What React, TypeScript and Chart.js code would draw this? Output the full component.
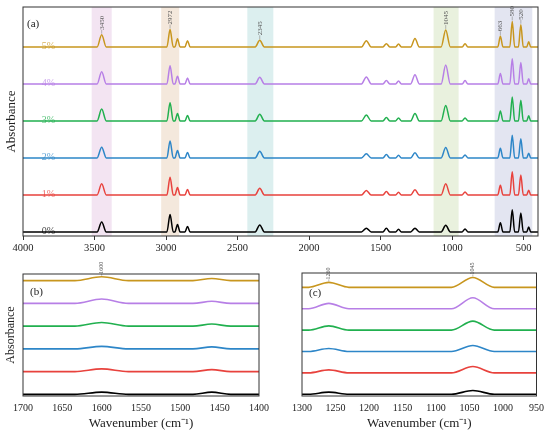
import React, { useEffect, useRef } from 'react';
import { Chart, registerables, ChartConfiguration, Plugin } from 'chart.js';

Chart.register(...registerables);

const FONT = "'Liberation Serif', 'Times New Roman', serif";

// series (filler content)
const seriesLabels = ['0%', '1%', '2%', '3%', '4%', '5%'];
const seriesColors = ['#000000', '#e8423d', '#2d86c8', '#21b04f', '#b77fe6', '#c8961e'];
const seriesOffsets = [0, 1, 2, 3, 4, 5];

// absorption bands (cm-1) and their approximate half widths
const peakCenters = [3450, 2972, 2920, 2850, 2345, 1600, 1460, 1375, 1260, 1045, 910, 663, 580, 520, 465];
const peakHalfWidths = [32, 22, 18, 18, 32, 34, 24, 20, 30, 32, 20, 18, 17, 17, 14];

// peak heights per series, same order as peakCenters
const heights0 = [0.27, 0.47, 0.2, 0.15, 0.19, 0.1, 0.1, 0.07, 0.1, 0.18, 0.08, 0.25, 0.6, 0.51, 0.13];
const heights1 = [0.3, 0.48, 0.2, 0.15, 0.18, 0.12, 0.09, 0.07, 0.14, 0.3, 0.08, 0.26, 0.63, 0.54, 0.13];
const heights2 = [0.29, 0.46, 0.2, 0.15, 0.18, 0.11, 0.09, 0.07, 0.14, 0.28, 0.08, 0.26, 0.61, 0.52, 0.13];
const heights3 = [0.32, 0.49, 0.2, 0.15, 0.18, 0.16, 0.09, 0.08, 0.2, 0.42, 0.08, 0.27, 0.65, 0.56, 0.14];
const heights4 = [0.33, 0.49, 0.21, 0.16, 0.18, 0.19, 0.09, 0.08, 0.25, 0.51, 0.09, 0.28, 0.68, 0.58, 0.14];
const heights5 = [0.33, 0.47, 0.22, 0.17, 0.18, 0.17, 0.09, 0.08, 0.23, 0.46, 0.09, 0.29, 0.69, 0.6, 0.14];
const peakHeights = [heights0, heights1, heights2, heights3, heights4, heights5];

// shaded regions in panel (a)
const bandFrom = [3520, 3034, 2432, 1130, 703];
const bandTo = [3380, 2908, 2250, 955, 440];
const bandColors = ['#f3e4f2', '#f4e8dc', '#dcefef', '#e9f1de', '#e3e5f1'];

// peak labels
const annotA = [3450, 2972, 2345, 1045, 663, 580, 520];
const annotB = [1600];
const annotC = [1260, 1045];

// tick labels
const xTicksA = [4000, 3500, 3000, 2500, 2000, 1500, 1000, 500];
const xTicksB = [1700, 1650, 1600, 1550, 1500, 1450, 1400];
const xTicksC = [1300, 1250, 1200, 1150, 1100, 1050, 1000, 950];

const buildSeries = (row: number[], offset: number) => {
  const pts = [{ x: 400, y: offset }, { x: 4000, y: offset }];
  peakCenters.forEach((c, i) => {
    const hw = peakHalfWidths[i];
    pts.push({ x: c - hw, y: offset }, { x: c, y: offset + row[i] }, { x: c + hw, y: offset });
  });
  return pts.sort((a, b) => a.x - b.x);
};

interface Decor {
  bands: boolean;
  seriesText: boolean;
  annot: number[];
  annotFont: number;
  annotGap: number;
  letter: string;
  letterDx: number;
  letterDy: number;
}

const decorPlugin = (d: Decor): Plugin<'line'> => ({
  id: 'decor',
  beforeDatasetsDraw(chart) {
    const { ctx, chartArea: a } = chart;
    const xs = chart.scales.x;
    const ys = chart.scales.y;
    ctx.save();
    if (d.bands) {
      bandFrom.forEach((f, i) => {
        const x1 = xs.getPixelForValue(f);
        const x2 = xs.getPixelForValue(bandTo[i]);
        ctx.fillStyle = bandColors[i];
        ctx.fillRect(Math.min(x1, x2), a.top, Math.abs(x2 - x1), a.bottom - a.top);
      });
    }
    if (d.seriesText) {
      ctx.font = `10px ${FONT}`;
      ctx.textAlign = 'center';
      ctx.textBaseline = 'middle';
      ctx.globalAlpha = 0.75;
      seriesLabels.forEach((lab, i) => {
        ctx.fillStyle = seriesColors[i];
        ctx.fillText(lab, a.left + 25.5, ys.getPixelForValue(seriesOffsets[i]) - 1);
      });
    }
    ctx.restore();
  },
  afterDraw(chart) {
    const { ctx, chartArea: a } = chart;
    const xs = chart.scales.x;
    const ys = chart.scales.y;
    ctx.save();
    // peak labels above the top series
    const top = peakHeights.length - 1;
    d.annot.forEach((wn) => {
      const idx = peakCenters.indexOf(wn);
      const px = xs.getPixelForValue(wn);
      const py = ys.getPixelForValue(seriesOffsets[top] + peakHeights[top][idx]);
      ctx.strokeStyle = '#888';
      ctx.lineWidth = 0.6;
      ctx.beginPath();
      ctx.moveTo(px, py - 1);
      ctx.lineTo(px, py - d.annotGap);
      ctx.stroke();
      ctx.save();
      ctx.translate(px, py - d.annotGap);
      ctx.rotate(-Math.PI / 2);
      ctx.font = `${d.annotFont}px ${FONT}`;
      ctx.fillStyle = '#555';
      ctx.textAlign = 'left';
      ctx.textBaseline = 'middle';
      ctx.fillText(String(wn), 0, 0);
      ctx.restore();
    });
    // frame
    ctx.strokeStyle = '#333';
    ctx.lineWidth = 1;
    ctx.strokeRect(a.left, a.top, a.right - a.left, a.bottom - a.top);
    // panel letter
    ctx.font = `11px ${FONT}`;
    ctx.fillStyle = '#222';
    ctx.textAlign = 'left';
    ctx.textBaseline = 'middle';
    ctx.fillText(d.letter, a.left + d.letterDx, a.top + d.letterDy);
    ctx.restore();
  },
});

interface PanelSpec {
  min: number;
  max: number;
  yMin: number;
  yMax: number;
  ticks: number[];
  tickMarks: boolean;
  tickPad: number;
  axisHeight: number;
  axisWidth: number;
  yTitle: string;
  yTitleSize: number;
  xTitle: string;
  padding: { top: number; right: number };
  tickSize: number;
  lineWidth: number;
  decor: Decor;
}

const makeConfig = (p: PanelSpec): ChartConfiguration<'line'> => ({
  type: 'line',
  data: {
    datasets: seriesLabels.map((lab, i) => ({
      label: lab,
      data: buildSeries(peakHeights[i], seriesOffsets[i]),
      borderColor: seriesColors[i],
      borderWidth: p.lineWidth,
      pointRadius: 0,
      fill: false,
      cubicInterpolationMode: 'monotone' as const,
    })),
  },
  options: {
    responsive: false,
    animation: false,
    layout: { padding: { top: p.padding.top, right: p.padding.right, left: 0, bottom: 0 } },
    plugins: { legend: { display: false }, tooltip: { enabled: false } },
    scales: {
      x: {
        type: 'linear',
        reverse: true,
        min: p.min,
        max: p.max,
        afterBuildTicks: (s) => {
          s.ticks = p.ticks.map((v) => ({ value: v }));
        },
        afterFit: (s) => {
          s.height = p.axisHeight;
        },
        grid: {
          display: p.tickMarks,
          drawOnChartArea: false,
          drawTicks: p.tickMarks,
          tickLength: 4,
          color: '#333',
        },
        border: { display: false },
        ticks: {
          autoSkip: false,
          maxRotation: 0,
          padding: p.tickPad,
          color: '#222',
          font: { family: FONT, size: p.tickSize },
          callback: (v) => String(v),
        },
        title: {
          display: p.xTitle !== '',
          text: p.xTitle,
          color: '#222',
          font: { family: FONT, size: 13 },
          padding: { top: 0, bottom: 4 },
        },
      },
      y: {
        type: 'linear',
        min: p.yMin,
        max: p.yMax,
        afterFit: (s) => {
          s.width = p.axisWidth;
        },
        grid: { display: false },
        border: { display: false },
        ticks: { display: false },
        title: {
          display: p.yTitle !== '',
          text: p.yTitle,
          color: '#222',
          font: { family: FONT, size: p.yTitleSize },
          padding: { top: 4, bottom: 0 },
        },
      },
    },
  },
  plugins: [decorPlugin(p.decor)],
});

const configA = makeConfig({
  min: 400, max: 4000, yMin: -0.11, yMax: 6.08,
  ticks: xTicksA, tickMarks: true, tickPad: 2, axisHeight: 20, axisWidth: 23,
  yTitle: 'Absorbance', yTitleSize: 13, xTitle: '',
  padding: { top: 7, right: 12 }, tickSize: 10.5, lineWidth: 1.5,
  decor: { bands: true, seriesText: true, annot: annotA, annotFont: 7, annotGap: 5, letter: '(a)', letterDx: 4, letterDy: 17 },
});

const configB = makeConfig({
  min: 1400, max: 1700, yMin: -0.07, yMax: 5.29,
  ticks: xTicksB, tickMarks: false, tickPad: 6, axisHeight: 39, axisWidth: 23,
  yTitle: 'Absorbance', yTitleSize: 12, xTitle: 'Wavenumber (cm\u207B\u00B9)',
  padding: { top: 19, right: 16 }, tickSize: 10, lineWidth: 1.6,
  decor: { bands: false, seriesText: false, annot: annotB, annotFont: 6, annotGap: 3, letter: '(b)', letterDx: 7, letterDy: 18 },
});

const configC = makeConfig({
  min: 950, max: 1300, yMin: -0.08, yMax: 5.67,
  ticks: xTicksC, tickMarks: false, tickPad: 6, axisHeight: 39, axisWidth: 27,
  yTitle: '', yTitleSize: 12, xTitle: 'Wavenumber (cm\u207B\u00B9)',
  padding: { top: 18, right: 12 }, tickSize: 10, lineWidth: 1.6,
  decor: { bands: false, seriesText: false, annot: annotC, annotFont: 6, annotGap: 3, letter: '(c)', letterDx: 7, letterDy: 20 },
});

interface PanelProps {
  config: ChartConfiguration<'line'>;
  left: number;
  top: number;
  width: number;
  height: number;
}

const ChartPanel: React.FC<PanelProps> = ({ config, left, top, width, height }) => {
  const canvasRef = useRef<HTMLCanvasElement | null>(null);

  useEffect(() => {
    if (!canvasRef.current) return;
    const chart = new Chart(canvasRef.current, config);
    return () => {
      chart.destroy();
    };
  }, [config]);

  return (
    <div style={{ position: 'absolute', left, top, width, height }}>
      <canvas ref={canvasRef} width={width} height={height} style={{ display: 'block', width, height }} />
    </div>
  );
};

export default function App() {
  return (
    <div style={{ position: 'absolute', left: 0, top: 0, width: 550, height: 435, background: '#fff' }}>
      <ChartPanel config={configA} left={0} top={0} width={550} height={256} />
      <ChartPanel config={configB} left={0} top={255} width={275} height={180} />
      <ChartPanel config={configC} left={275} top={255} width={275} height={180} />
    </div>
  );
}
